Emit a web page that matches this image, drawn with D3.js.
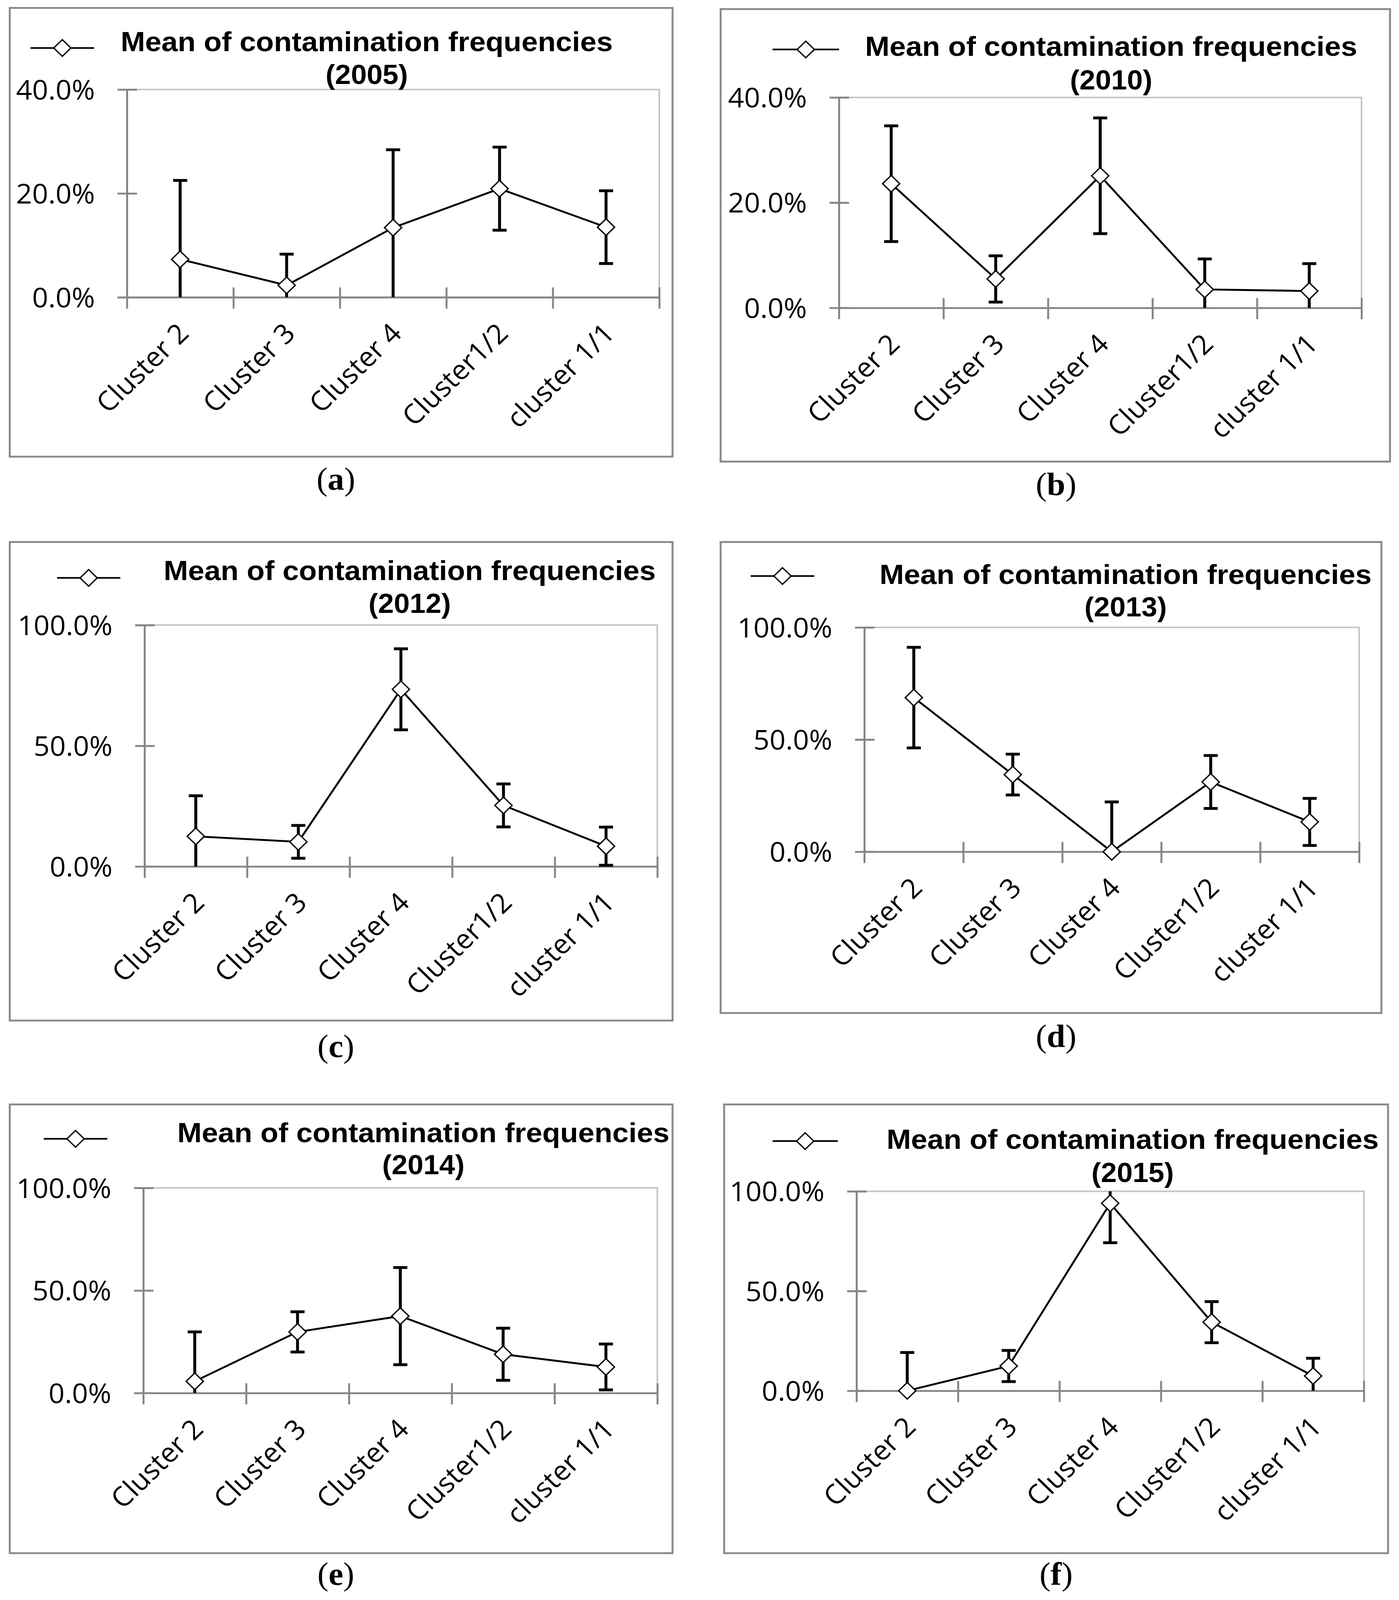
<!DOCTYPE html>
<html>
<head>
<meta charset="utf-8">
<script src="https://cdn.jsdelivr.net/npm/d3@7"></script>
<style>
html, body { margin: 0; padding: 0; background: #fff; overflow: hidden; }
svg { display: block; width: 100vw; height: 100vh; }
.title { font-family: "Liberation Sans", Arial, sans-serif; font-weight: bold; font-size: 73px; fill: #000; }
.tick text, .cat { font-family: "Open Sans", sans-serif; font-size: 72px; fill: #000; }
.caption { font-family: "Liberation Serif", serif; font-size: 85px; fill: #000; }
</style>
</head>
<body>
<svg id="chart" viewBox="0 0 3582 4236" preserveAspectRatio="none"></svg>
<script>
/* globals d3 */

// categories and values (percent)
var categories = ["Cluster 2", "Cluster 3", "Cluster 4", "Cluster1/2", "cluster 1/1"];
var years = ["2005", "2010", "2012", "2013", "2014", "2015"];
var letters = ["a", "b", "c", "d", "e", "f"];

var mean2005 = [7.3, 2.3, 13.4, 20.9, 13.5];
var err2005 = [15.2, 6.0, 15.0, 8.0, 7.0];
var mean2010 = [23.6, 5.5, 25.1, 3.5, 3.2];
var err2010 = [11.0, 4.4, 11.0, 5.8, 5.2];
var mean2012 = [12.5, 10.2, 73.4, 25.3, 8.4];
var err2012 = [16.8, 6.8, 16.8, 8.9, 7.9];
var mean2013 = [68.7, 34.4, 0.0, 31.1, 13.3];
var err2013 = [22.4, 9.1, 22.2, 11.8, 10.5];
var mean2014 = [5.7, 29.8, 37.5, 18.9, 12.7];
var err2014 = [24.1, 9.8, 23.7, 12.7, 11.2];
var mean2015 = [0.0, 12.4, 94.0, 34.4, 7.4];
var err2015 = [19.2, 7.8, 19.8, 10.3, 8.9];

var ticks40 = [0, 20, 40];
var ticks100 = [0, 50, 100];

var legendLabel = "Mean of contamination frequencies";

var panels = [
    {mean: mean2005, err: err2005, ticks: ticks40},
    {mean: mean2010, err: err2010, ticks: ticks40},
    {mean: mean2012, err: err2012, ticks: ticks100},
    {mean: mean2013, err: err2013, ticks: ticks100},
    {mean: mean2014, err: err2014, ticks: ticks100},
    {mean: mean2015, err: err2015, ticks: ticks100}
];

// where each panel sits on the page
var layout = [
    {frame: [25, 21, 1722, 1209], plot: [325, 237, 1688, 787], tx: 939, t1: 135, t2: 222, leg: [78, 241, 127], cap: [860, 1297]},
    {frame: [1845, 24, 3559, 1222], plot: [2148, 258, 3486, 815], tx: 2845, t1: 148, t2: 237, leg: [1978, 2148, 131], cap: [2704, 1310]},
    {frame: [25, 1435, 1722, 2702], plot: [370, 1655, 1683, 2294], tx: 1049, t1: 1536, t2: 1623, leg: [146, 308, 1530], cap: [860, 2798]},
    {frame: [1845, 1435, 3537, 2682], plot: [2213, 1661, 3480, 2255], tx: 2882, t1: 1546, t2: 1632, leg: [1922, 2085, 1525], cap: [2704, 2772]},
    {frame: [25, 2924, 1722, 4112], plot: [367, 3145, 1683, 3688], tx: 1084, t1: 3024, t2: 3109, leg: [112, 275, 3015], cap: [860, 4196]},
    {frame: [1854, 2924, 3554, 4112], plot: [2193, 3154, 3492, 3682], tx: 2900, t1: 3042, t2: 3129, leg: [1978, 2145, 3021], cap: [2704, 4196]}
];

var axisGrey = "#868686";
var svg = d3.select("#chart");

function diamond(r) {
    return "M0," + (-r) + "L" + r + ",0L0," + r + "L" + (-r) + ",0Z";
}

function drawPanel(p, L, i) {
    var g = svg.append("g");

    g.append("rect")
        .attr("x", L.frame[0]).attr("y", L.frame[1])
        .attr("width", L.frame[2] - L.frame[0])
        .attr("height", L.frame[3] - L.frame[1])
        .attr("fill", "none")
        .attr("stroke", "#8a8a8a")
        .attr("stroke-width", 5);

    var x = d3.scaleBand().domain(categories).range([L.plot[0], L.plot[2]]);
    var xEdge = d3.scaleLinear().domain([0, categories.length]).range([L.plot[0], L.plot[2]]);
    var ymax = d3.max(p.ticks);
    var y = d3.scaleLinear().domain([0, ymax]).range([L.plot[3], L.plot[1]]);
    var cx = function(d) { return x(d) + x.bandwidth() / 2; };

    // plot area border (top and right)
    g.append("path")
        .attr("d", "M" + xEdge.range()[0] + "," + y(ymax) + "H" + xEdge.range()[1] + "V" + y(0))
        .attr("fill", "none")
        .attr("stroke", "#c4c4c4")
        .attr("stroke-width", 4);

    var yAxis = g.append("g")
        .attr("transform", "translate(" + L.plot[0] + ",0)")
        .call(d3.axisLeft(y).tickValues(p.ticks).tickSizeOuter(0)
              .tickFormat(function(d) { return d3.format(".1f")(d) + "%"; }));
    yAxis.select(".domain").attr("stroke", axisGrey).attr("stroke-width", 5);
    yAxis.selectAll(".tick line").attr("x1", 26).attr("x2", -24)
        .attr("stroke", axisGrey).attr("stroke-width", 5);
    yAxis.selectAll(".tick text").attr("x", -82).attr("dy", "0.36em");

    var xAxis = g.append("g")
        .attr("transform", "translate(0," + L.plot[3] + ")")
        .call(d3.axisBottom(xEdge).tickValues(d3.range(categories.length + 1))
              .tickFormat("").tickSizeOuter(0));
    xAxis.select(".domain").attr("stroke", axisGrey).attr("stroke-width", 5);
    xAxis.selectAll(".tick line").attr("y1", -26).attr("y2", 30)
        .attr("stroke", axisGrey).attr("stroke-width", 5);

    g.selectAll(".cat").data(categories).enter().append("text")
        .attr("class", "cat")
        .attr("text-anchor", "end")
        .attr("transform", function(d) {
            return "translate(" + (cx(d) + 26) + "," + (L.plot[3] + 100) + ") rotate(-45)";
        })
        .text(function(d) { return d; });

    var rows = categories.map(function(c, k) {
        return {cat: c, mean: p.mean[k], err: p.err[k]};
    });

    // error bars, clipped to the axis range like the original
    var capW = 18;
    var eb = g.selectAll(".err").data(rows).enter().append("g")
        .attr("stroke", "#000").attr("stroke-width", 7.5);
    eb.append("line")
        .attr("x1", function(d) { return cx(d.cat); })
        .attr("x2", function(d) { return cx(d.cat); })
        .attr("y1", function(d) { return y(Math.min(ymax, d.mean + d.err)); })
        .attr("y2", function(d) { return y(Math.max(0, d.mean - d.err)); });
    eb.filter(function(d) { return d.mean + d.err <= ymax; }).append("line")
        .attr("x1", function(d) { return cx(d.cat) - capW; })
        .attr("x2", function(d) { return cx(d.cat) + capW; })
        .attr("y1", function(d) { return y(d.mean + d.err); })
        .attr("y2", function(d) { return y(d.mean + d.err); });
    eb.filter(function(d) { return d.mean - d.err >= 0; }).append("line")
        .attr("x1", function(d) { return cx(d.cat) - capW; })
        .attr("x2", function(d) { return cx(d.cat) + capW; })
        .attr("y1", function(d) { return y(d.mean - d.err); })
        .attr("y2", function(d) { return y(d.mean - d.err); });

    g.append("path")
        .datum(rows)
        .attr("fill", "none")
        .attr("stroke", "#000")
        .attr("stroke-width", 5)
        .attr("d", d3.line().x(function(d) { return cx(d.cat); }).y(function(d) { return y(d.mean); }));

    g.selectAll(".mk").data(rows).enter().append("path")
        .attr("d", diamond(22))
        .attr("transform", function(d) { return "translate(" + cx(d.cat) + "," + y(d.mean) + ")"; })
        .attr("fill", "#fff")
        .attr("stroke", "#000")
        .attr("stroke-width", 3.5);

    // legend
    g.append("line")
        .attr("x1", L.leg[0]).attr("x2", L.leg[1])
        .attr("y1", L.leg[2]).attr("y2", L.leg[2])
        .attr("stroke", "#000").attr("stroke-width", 4.5);
    g.append("path")
        .attr("d", diamond(22))
        .attr("transform", "translate(" + (L.leg[0] + L.leg[1]) / 2 + "," + L.leg[2] + ")")
        .attr("fill", "#fff").attr("stroke", "#000").attr("stroke-width", 3.5);

    g.append("text").attr("class", "title")
        .attr("x", L.tx).attr("y", L.t1)
        .attr("text-anchor", "middle")
        .attr("textLength", 1260).attr("lengthAdjust", "spacingAndGlyphs")
        .text(legendLabel);
    g.append("text").attr("class", "title")
        .attr("x", L.tx).attr("y", L.t2)
        .attr("text-anchor", "middle")
        .attr("textLength", 211).attr("lengthAdjust", "spacingAndGlyphs")
        .text("(" + years[i] + ")");

    var cap = g.append("text").attr("class", "caption")
        .attr("x", L.cap[0]).attr("y", L.cap[1])
        .attr("text-anchor", "middle");
    cap.append("tspan").text("(");
    cap.append("tspan").attr("font-weight", "bold").text(letters[i]);
    cap.append("tspan").text(")");
}

panels.forEach(function(p, i) { drawPanel(p, layout[i], i); });
</script>
</body>
</html>
